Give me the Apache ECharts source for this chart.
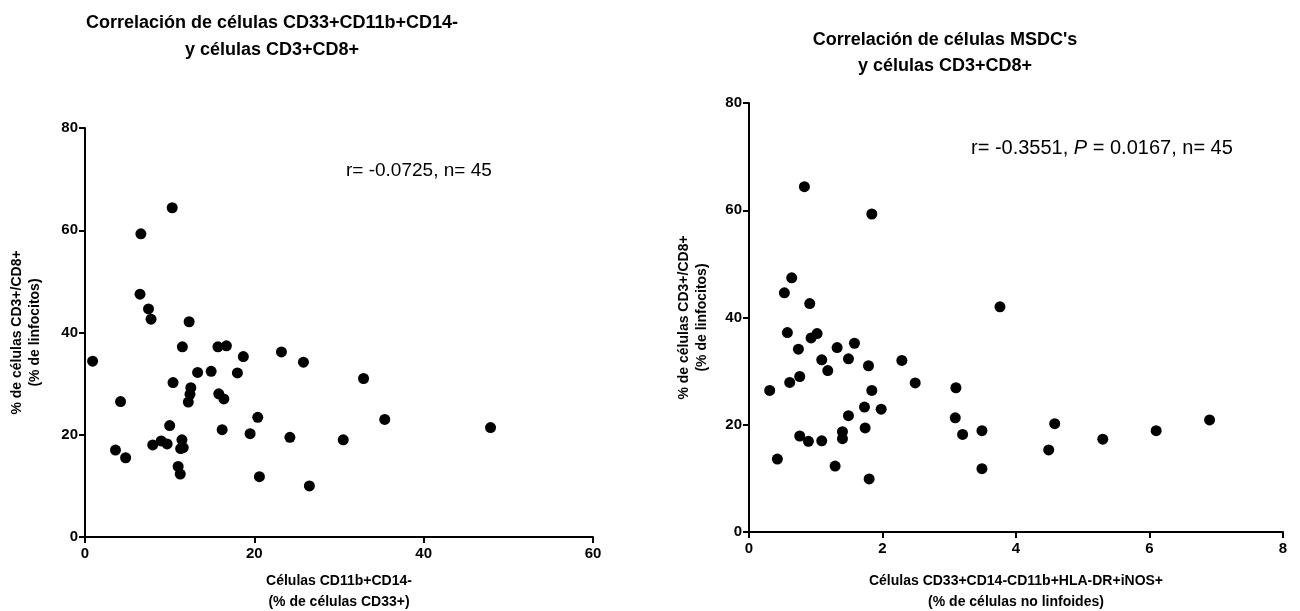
<!DOCTYPE html>
<html>
<head>
<meta charset="utf-8">
<script src="https://cdn.jsdelivr.net/npm/echarts@6/dist/echarts.min.js"></script>
<style>
  html, body { margin: 0; padding: 0; background: #fff; }
  #chart { width: 1300px; height: 611px; }
</style>
</head>
<body>
<div id="chart"></div>
<script>
// datos leídos del gráfico
// izquierda: % células CD11b+CD14- vs % CD3+/CD8+
let leftX = [10.3, 6.6, 6.5, 7.5, 7.8, 12.3, 11.5, 15.7, 16.7, 18.7, 23.2, 25.8, 0.9, 13.3, 14.9,
  18.0, 10.4, 12.5, 12.4, 12.2, 4.2, 15.8, 16.4, 10.0, 16.2, 20.4, 19.5, 24.2, 3.6, 4.8,
  8.0, 9.0, 9.7, 11.45, 11.3, 11.6, 11.0, 11.25, 20.6, 26.5, 30.5, 32.9, 35.4, 47.9];
let leftY = [64.4, 59.3, 47.5, 44.6, 42.6, 42.1, 37.2, 37.2, 37.4, 35.3, 36.2, 34.2, 34.4, 32.2, 32.4,
  32.1, 30.2, 29.2, 27.9, 26.4, 26.5, 28.0, 27.0, 21.8, 21.0, 23.4, 20.2, 19.5, 17.0, 15.5,
  18.0, 18.8, 18.2, 19.0, 17.3, 17.5, 13.8, 12.3, 11.8, 10.0, 19.0, 31.0, 23.0, 21.4];

// derecha: % MSDC's vs % CD3+/CD8+
let rightX = [0.83, 1.84, 0.64, 0.53, 0.91, 0.575, 0.93, 1.02, 1.58, 0.74, 1.32, 1.09, 1.49, 1.79, 2.29,
  1.18, 0.76, 0.61, 0.31, 1.84, 2.49, 3.10, 1.73, 1.98, 1.49, 3.09, 1.74, 1.40, 1.40, 0.76,
  0.89, 1.09, 3.20, 3.49, 0.425, 1.29, 1.80, 3.49, 3.76, 4.58, 4.49, 5.30, 6.10, 6.90];
let rightY = [64.4, 59.3, 47.4, 44.6, 42.6, 37.2, 36.2, 37.0, 35.2, 34.1, 34.4, 32.1, 32.3, 31.0, 32.0,
  30.1, 29.0, 27.9, 26.4, 26.4, 27.8, 26.9, 23.3, 22.9, 21.7, 21.3, 19.4, 18.7, 17.4, 17.9,
  16.9, 17.0, 18.2, 18.9, 13.6, 12.3, 9.9, 11.8, 42.0, 20.2, 15.3, 17.3, 18.9, 20.9];

let leftTicksX = [0, 60, 20];
let rightTicksX = [0, 8, 2];
let ticksY = [0, 80, 20];

let font = 'Liberation Sans, Arial, sans-serif';

function pares(xs, ys) {
  let res = [];
  for (let i = 0; i < xs.length; i++) {
    res.push([xs[i], ys[i]]);
  }
  return res;
}

function ejeX(idx, t, name, gap) {
  return {
    type: 'value', gridIndex: idx,
    min: t[0], max: t[1], interval: t[2],
    name: name, nameLocation: 'middle', nameGap: gap,
    nameTextStyle: { color: '#000', fontFamily: font, fontWeight: 'bold', fontSize: 14, lineHeight: 21 },
    axisLine: { show: true, lineStyle: { color: '#000', width: 2 } },
    axisTick: { show: true, length: 6, lineStyle: { color: '#000', width: 2 } },
    axisLabel: { color: '#000', fontFamily: font, fontWeight: 'bold', fontSize: 15, margin: 9 },
    splitLine: { show: false }
  };
}

function ejeY(idx, name, gap) {
  return {
    type: 'value', gridIndex: idx,
    min: ticksY[0], max: ticksY[1], interval: ticksY[2],
    name: name, nameLocation: 'middle', nameGap: gap, nameRotate: 90,
    nameTextStyle: { color: '#000', fontFamily: font, fontWeight: 'bold', fontSize: 14, lineHeight: 18 },
    axisLine: { show: true, lineStyle: { color: '#000', width: 2 } },
    axisTick: { show: true, length: 6, lineStyle: { color: '#000', width: 2 } },
    axisLabel: { color: '#000', fontFamily: font, fontWeight: 'bold', fontSize: 15, margin: 7 },
    splitLine: { show: false }
  };
}

let myChart = echarts.init(document.getElementById('chart'));

let option = {
  backgroundColor: '#fff',
  animation: false,
  title: [
    {
      text: 'Correlación de células CD33+CD11b+CD14-\ny células CD3+CD8+',
      left: 272, top: 10, textAlign: 'center', padding: 0,
      textStyle: { fontFamily: font, fontWeight: 'bold', fontSize: 18, lineHeight: 27, color: '#000' }
    },
    {
      text: "Correlación de células MSDC's\ny células CD3+CD8+",
      left: 945, top: 27, textAlign: 'center', padding: 0,
      textStyle: { fontFamily: font, fontWeight: 'bold', fontSize: 18, lineHeight: 26, color: '#000' }
    },
    {
      text: 'r= -0.0725, n= 45',
      left: 346, top: 161, padding: 0,
      textStyle: { fontFamily: font, fontWeight: 'normal', fontSize: 19, color: '#000' }
    },
    {
      text: 'r= -0.3551, {i|P} = 0.0167, n= 45',
      left: 971, top: 138, padding: 0,
      textStyle: {
        fontFamily: font, fontWeight: 'normal', fontSize: 20, color: '#000',
        rich: { i: { fontFamily: font, fontStyle: 'italic', fontSize: 20, color: '#000' } }
      }
    }
  ],
  grid: [
    { left: 85, right: 707, top: 128, bottom: 74, outerBoundsMode: 'none' },
    { left: 749, right: 17, top: 103, bottom: 79, outerBoundsMode: 'none' }
  ],
  xAxis: [
    ejeX(0, leftTicksX, 'Células CD11b+CD14-\n(% de células CD33+)', 34),
    ejeX(1, rightTicksX, 'Células CD33+CD14-CD11b+HLA-DR+iNOS+\n(% de células no linfoides)', 39)
  ],
  yAxis: [
    ejeY(0, '% de células CD3+/CD8+\n(% de linfocitos)', 41),
    ejeY(1, '% de células CD3+/CD8+\n(% de linfocitos)', 38)
  ],
  series: [
    {
      type: 'scatter', xAxisIndex: 0, yAxisIndex: 0,
      data: pares(leftX, leftY),
      symbolSize: 11,
      itemStyle: { color: '#000', opacity: 1 }
    },
    {
      type: 'scatter', xAxisIndex: 1, yAxisIndex: 1,
      data: pares(rightX, rightY),
      symbolSize: 11,
      itemStyle: { color: '#000', opacity: 1 }
    }
  ]
};

myChart.setOption(option);
</script>
</body>
</html>
